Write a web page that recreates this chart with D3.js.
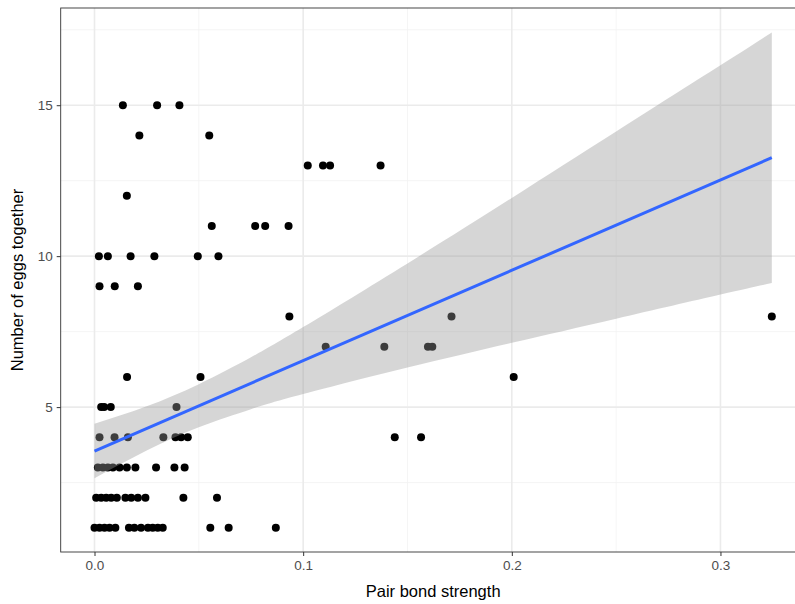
<!DOCTYPE html>
<html>
<head>
<meta charset="utf-8">
<script src="https://cdn.jsdelivr.net/npm/d3@7"></script>
<style>
  body { margin: 0; background: #fff; }
  svg { display: block; font-family: "Liberation Sans", Arial, sans-serif; }
</style>
</head>
<body>
<div id="chart"></div>
<script>
// Points grouped by "Number of eggs together" (y); x values are pair bond strength
const eggRows = [15, 14, 13, 12, 11, 10, 9, 8, 7, 6, 5, 4, 3, 2, 1];
const bondByRow = [
  [0.0136, 0.0300, 0.0407],
  [0.0215, 0.0550],
  [0.1022, 0.1095, 0.1129, 0.1371],
  [0.0155],
  [0.0562, 0.0770, 0.0818, 0.0930],
  [0.0021, 0.0064, 0.0173, 0.0287, 0.0495, 0.0594],
  [0.0024, 0.0097, 0.0208],
  [0.0934, 0.1711, 0.3246],
  [0.1108, 0.1389, 0.1598, 0.1619],
  [0.0156, 0.0508, 0.2009],
  [0.0032, 0.0046, 0.0078, 0.0393],
  [0.0024, 0.0096, 0.0160, 0.0330, 0.0388, 0.0415, 0.0447, 0.1439, 0.1565],
  [0.0016, 0.0040, 0.0064, 0.0088, 0.0120, 0.0155, 0.0196, 0.0295, 0.0383, 0.0432],
  [0.0008, 0.0032, 0.0056, 0.0080, 0.0107, 0.0148, 0.0176, 0.0208, 0.0244, 0.0426, 0.0587],
  [0.0000, 0.0024, 0.0048, 0.0072, 0.0100, 0.0165, 0.0191, 0.0223, 0.0256, 0.0279, 0.0303, 0.0327, 0.0555, 0.0643, 0.0869]
];

// Linear fit and its confidence band
const fitX = [0, 0.3246];
const fitY = [3.545, 13.26];
const bandX     = [0, 0.025, 0.05, 0.075, 0.1, 0.15, 0.2, 0.25, 0.3, 0.3246];
const bandLower = [2.64, 3.56, 4.33, 4.93, 5.43, 6.31, 7.13, 7.93, 8.73, 9.11];
const bandUpper = [4.45, 5.03, 5.76, 6.65, 7.65, 9.76, 11.93, 14.13, 16.32, 17.41];

const xTicks = [0, 0.1, 0.2, 0.3];
const xMinor = [0.05, 0.15, 0.25, 0.35];
const yTicks = [5, 10, 15];
const yMinor = [2.5, 7.5, 12.5, 17.5];

const points = [];
eggRows.forEach((eggs, i) => bondByRow[i].forEach(b => points.push({ bond: b, eggs: eggs })));

const width = 795, height = 604;
const margin = { top: 8, right: -10.6, bottom: 52, left: 60.7 };

const svg = d3.select("#chart").append("svg")
  .attr("width", width)
  .attr("height", height);

const x = d3.scaleLinear()
  .domain([-0.0162, 0.3408])
  .range([margin.left, width - margin.right]);

const y = d3.scaleLinear()
  .domain([0.2, 18.22])
  .range([height - margin.bottom, margin.top]);

const x0 = margin.left, x1 = width - margin.right;
const y0 = height - margin.bottom, y1 = margin.top;

// Grid
const grid = svg.append("g");
grid.selectAll(".xminor").data(xMinor).enter().append("line")
  .attr("x1", d => x(d)).attr("x2", d => x(d)).attr("y1", y0).attr("y2", y1)
  .attr("stroke", "#f2f2f2").attr("stroke-width", 0.8);
grid.selectAll(".yminor").data(yMinor).enter().append("line")
  .attr("x1", x0).attr("x2", x1).attr("y1", d => y(d)).attr("y2", d => y(d))
  .attr("stroke", "#f2f2f2").attr("stroke-width", 0.8);
grid.selectAll(".xmajor").data(xTicks).enter().append("line")
  .attr("x1", d => x(d)).attr("x2", d => x(d)).attr("y1", y0).attr("y2", y1)
  .attr("stroke", "#ebebeb").attr("stroke-width", 1.6);
grid.selectAll(".ymajor").data(yTicks).enter().append("line")
  .attr("x1", x0).attr("x2", x1).attr("y1", d => y(d)).attr("y2", d => y(d))
  .attr("stroke", "#ebebeb").attr("stroke-width", 1.6);

// Points
svg.append("g").selectAll("circle")
  .data(points)
  .enter()
  .append("circle")
  .attr("cx", d => x(d.bond))
  .attr("cy", d => y(d.eggs))
  .attr("r", 4)
  .attr("fill", "#000");

// Confidence band
const band = bandX.map((v, i) => ({ x: v, lo: bandLower[i], hi: bandUpper[i] }));
svg.append("path")
  .datum(band)
  .attr("fill", "#999999")
  .attr("fill-opacity", 0.4)
  .attr("d", d3.area()
    .x(d => x(d.x))
    .y0(d => y(d.lo))
    .y1(d => y(d.hi))
    .curve(d3.curveNatural));

// Fit line
svg.append("path")
  .datum(fitX.map((v, i) => [v, fitY[i]]))
  .attr("fill", "none")
  .attr("stroke", "#3366ff")
  .attr("stroke-width", 3)
  .attr("d", d3.line().x(d => x(d[0])).y(d => y(d[1])));

// Panel border
svg.append("rect")
  .attr("x", x0).attr("y", y1)
  .attr("width", x1 - x0).attr("height", y0 - y1)
  .attr("fill", "none")
  .attr("stroke", "#333")
  .attr("stroke-width", 0.9);

// Axes
const xAxis = svg.append("g")
  .attr("transform", `translate(0,${y0})`)
  .call(d3.axisBottom(x).tickValues(xTicks).tickFormat(d3.format(".1f")).tickSize(4).tickPadding(4));
const yAxis = svg.append("g")
  .attr("transform", `translate(${x0},0)`)
  .call(d3.axisLeft(y).tickValues(yTicks).tickSize(4).tickPadding(4));

[xAxis, yAxis].forEach(a => {
  a.select(".domain").remove();
  a.selectAll(".tick line").attr("stroke", "#333").attr("stroke-width", 1);
  a.selectAll(".tick text")
    .attr("fill", "#4d4d4d")
    .style("font-size", "13.5px")
    .style("font-family", "'Liberation Sans', Arial, sans-serif");
});

// Labels
svg.append("text")
  .attr("x", (x0 + x1) / 2)
  .attr("y", 597)
  .attr("text-anchor", "middle")
  .style("font-size", "16.5px")
  .attr("fill", "#000")
  .text("Pair bond strength");

svg.append("text")
  .attr("x", -(y0 + y1) / 2)
  .attr("y", 23)
  .attr("transform", "rotate(-90)")
  .attr("text-anchor", "middle")
  .style("font-size", "16.5px")
  .attr("fill", "#000")
  .text("Number of eggs together");
</script>
</body>
</html>
